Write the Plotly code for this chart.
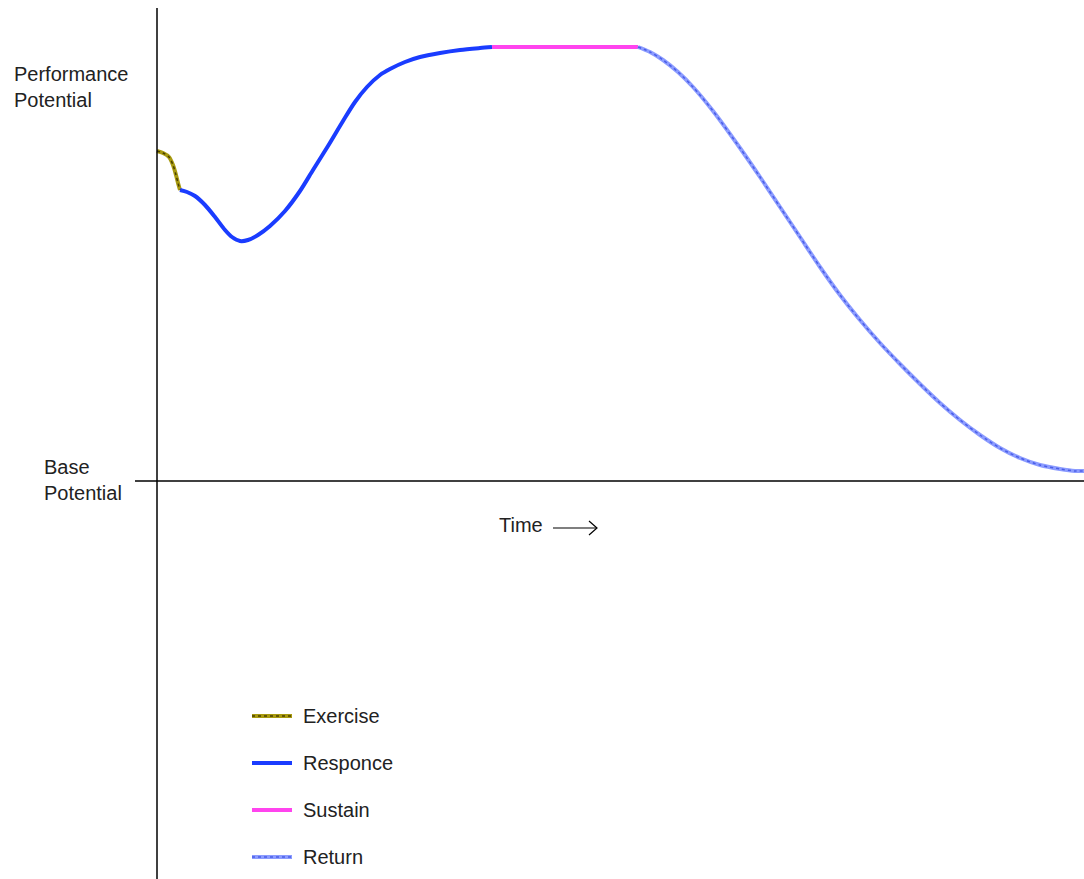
import plotly.graph_objects as go

# Data in chart units: time (x) and potential above base (y)
exercise_t = [0, 6, 12, 16, 19, 21, 23]
exercise_p = [330, 328, 324, 316, 306, 298, 291]

response_t = [23, 30, 38, 48, 58, 68, 75, 83, 91, 101, 113, 128, 143, 156, 171, 186, 198, 210, 223, 233, 248, 263, 283, 303, 323, 335]
response_p = [291, 289, 285, 276, 264, 251, 244, 240, 241, 246, 255, 270, 290, 311, 335, 360, 379, 394, 406, 412, 419, 424, 428, 431, 433, 434]

sustain_t = [335, 481]
sustain_p = [434, 434]

return_t = [481, 493, 506, 521, 536, 556, 583, 603, 623, 643, 663, 683, 703, 723, 743, 763, 783, 803, 823, 843, 863, 883, 903, 918, 927]
return_p = [434, 429, 421, 409, 394, 370, 333, 304, 274, 244, 214, 186, 161, 138, 117, 97, 78, 61, 46, 33, 23, 16, 12, 10, 10]

series_names = ["Exercise", "Responce", "Sustain", "Return"]
series_t = [exercise_t, response_t, sustain_t, return_t]
series_p = [exercise_p, response_p, sustain_p, return_p]
series_colors = ["#a89a10", "#1a3cff", "#ff44ee", "#8c9cff"]
series_dots = ["#4a4000", None, None, "#4a5ee8"]

FONT = "Liberation Sans, Arial, sans-serif"
TXT = "#222222"

fig = go.Figure()
for name, t, p, col in zip(series_names, series_t, series_p, series_colors):
    fig.add_trace(go.Scatter(
        x=t, y=p, mode="lines", name=name, showlegend=False,
        line=dict(color=col, width=4, shape="spline", smoothing=0.8),
    ))
for name, t, p, dot in zip(series_names, series_t, series_p, series_dots):
    if dot:
        fig.add_trace(go.Scatter(
            x=t, y=p, mode="lines", showlegend=False,
            line=dict(color=dot, width=1.5, dash="dot", shape="spline", smoothing=0.8),
            hoverinfo="skip",
        ))

# axis lines
fig.add_shape(type="line", x0=0, x1=0, y0=-398, y1=473, line=dict(color="black", width=1.5))
fig.add_shape(type="line", x0=-22, x1=927, y0=0, y1=0, line=dict(color="black", width=1.5))
# time arrow
fig.add_shape(type="line", x0=396, x1=440, y0=-47, y1=-47, line=dict(color="black", width=1.2))
fig.add_shape(type="path", path="M 432,-40 L 440,-47 L 432,-54", line=dict(color="black", width=1.2))

fig.add_annotation(x=-145, y=394, text="Performance<br>Potential", showarrow=False,
                   xanchor="left", yanchor="middle", align="left",
                   font=dict(family=FONT, size=20, color=TXT))
fig.add_annotation(x=-115, y=1, text="Base<br>Potential", showarrow=False,
                   xanchor="left", yanchor="middle", align="left",
                   font=dict(family=FONT, size=20, color=TXT))
fig.add_annotation(x=340, y=-44, text="Time", showarrow=False,
                   xanchor="left", yanchor="middle",
                   font=dict(family=FONT, size=20, color=TXT))

# custom legend
leg_y = [-235, -282, -329, -376]
for name, col, dot, ly in zip(series_names, series_colors, series_dots, leg_y):
    fig.add_shape(type="line", x0=95, x1=135, y0=ly, y1=ly, line=dict(color=col, width=4))
    if dot:
        fig.add_shape(type="line", x0=95, x1=135, y0=ly, y1=ly, line=dict(color=dot, width=1.5, dash="dot"))
    fig.add_annotation(x=144, y=ly, text=name, showarrow=False, xanchor="left", yanchor="middle",
                       font=dict(family=FONT, size=20, color=TXT))

fig.update_layout(
    width=1084, height=879,
    margin=dict(l=0, r=0, t=0, b=0),
    paper_bgcolor="white", plot_bgcolor="white",
    xaxis=dict(range=[-157, 927], visible=False, fixedrange=True),
    yaxis=dict(range=[-398, 481], visible=False, fixedrange=True),
    showlegend=False,
)

fig.write_html("out.html", config={"displayModeBar": False},
               post_script="document.body.style.margin='0';document.body.style.overflow='hidden';")
